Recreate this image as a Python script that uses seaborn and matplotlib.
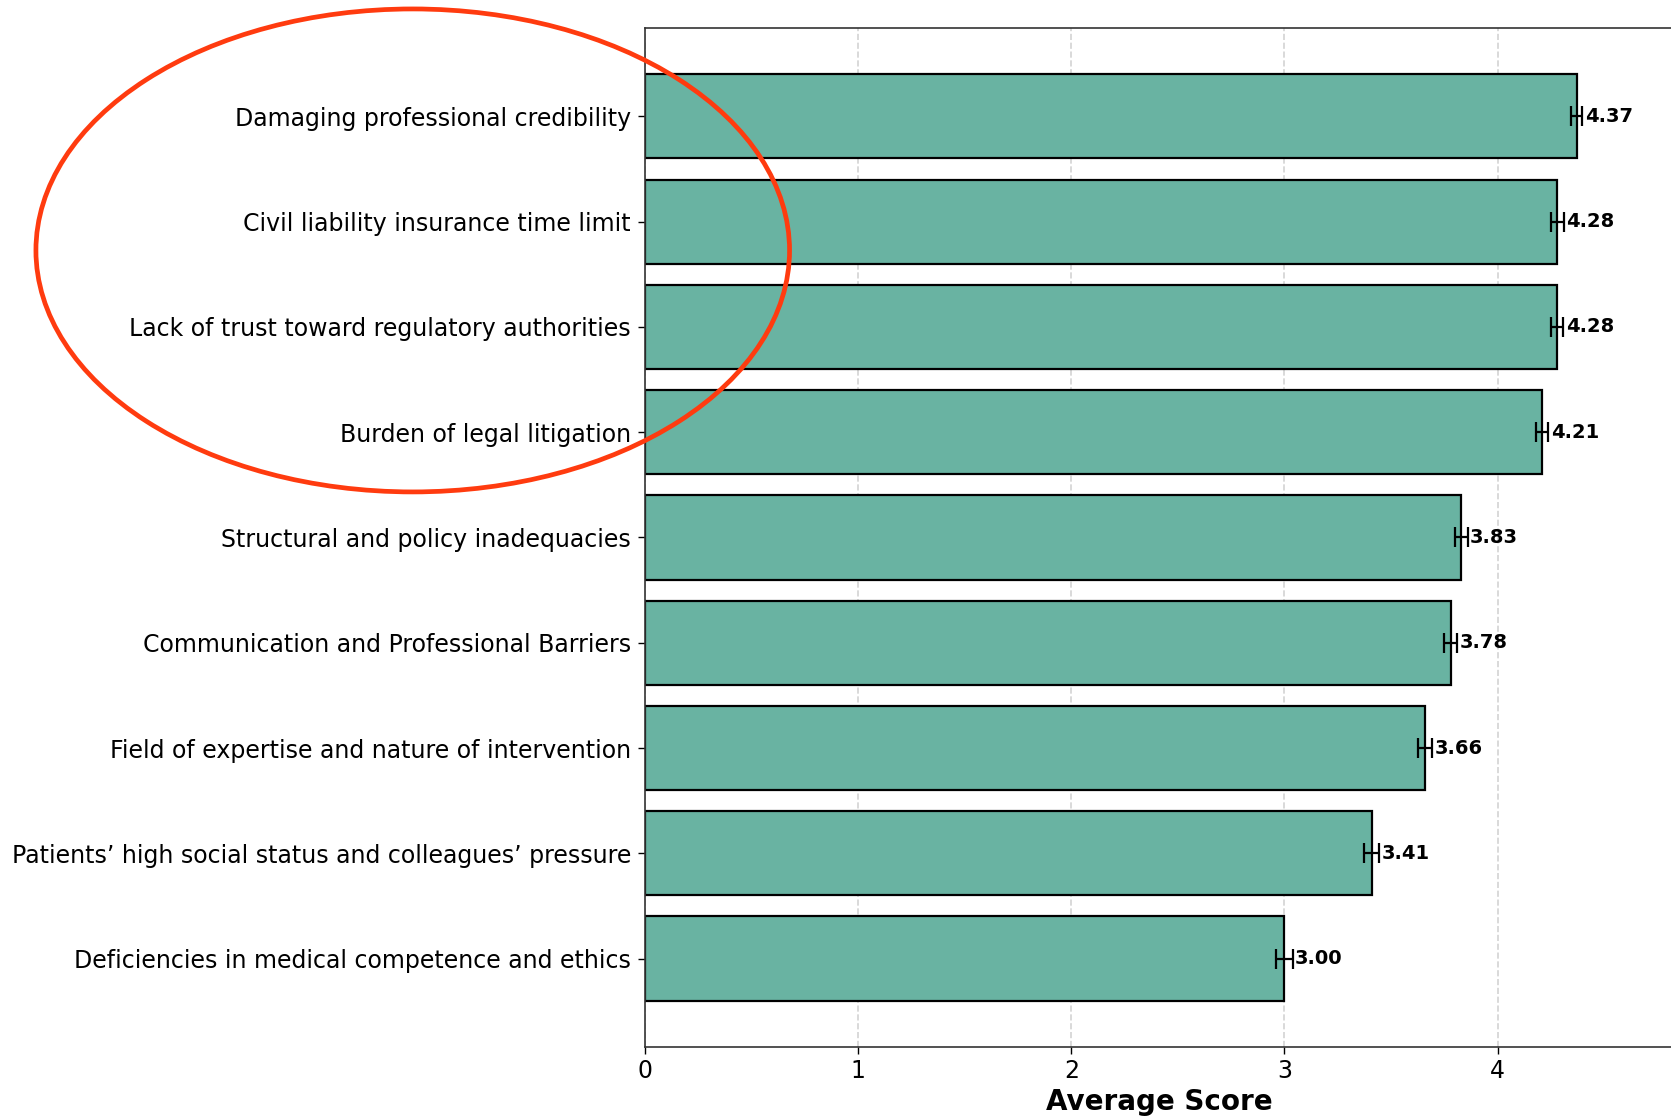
import numpy as np
import pandas as pd
import matplotlib.pyplot as plt
import seaborn as sns
from matplotlib.patches import Ellipse

factors = [
    'Damaging professional credibility',
    'Civil liability insurance time limit',
    'Lack of trust toward regulatory authorities',
    'Burden of legal litigation',
    'Structural and policy inadequacies',
    'Communication and Professional Barriers',
    'Field of expertise and nature of intervention',
    'Patients\u2019 high social status and colleagues\u2019 pressure',
    'Deficiencies in medical competence and ethics',
]
scores = [4.37, 4.28, 4.28, 4.21, 3.83, 3.78, 3.66, 3.41, 3.00]
errors = [0.026, 0.03, 0.028, 0.028, 0.029, 0.03, 0.034, 0.035, 0.038]

df = pd.DataFrame({'Factor': factors, 'Score': scores, 'SE': errors})

sns.set_style('white')
plt.rcParams['font.family'] = ['DejaVu Sans']

fig = plt.figure(figsize=(16.71, 11.18), dpi=100)
ax = fig.add_axes([0.386, 0.0635, 0.616, 0.9115])

ax.grid(axis='x', linestyle='--', color='lightgray', linewidth=1.2, zorder=0)
ax.set_axisbelow(True)

sns.barplot(data=df, x='Score', y='Factor', orient='h', color='#69b3a2',
            saturation=1, edgecolor='black', linewidth=1.6, width=0.8, ax=ax, zorder=2)

# standard errors
ax.errorbar(df['Score'], np.arange(len(df)), xerr=df['SE'], fmt='none',
            ecolor='black', elinewidth=1.6, capsize=7.5, capthick=1.6, zorder=3)

for i, row in df.iterrows():
    ax.text(row['Score'] + row['SE'] + 0.012, i, f"{row['Score']:.2f}",
            va='center', ha='left', fontsize=14, fontweight='bold', color='black', zorder=4)

ax.set_xlim(0, max(scores) * 1.105)
ax.set_ylim(len(df) - 1 + 0.84, -0.84)
ax.set_xticks([0, 1, 2, 3, 4])
ax.set_xlabel('Average Score', fontsize=20, fontweight='bold', labelpad=4, color='black')
ax.set_ylabel('')
ax.tick_params(axis='both', labelsize=17, length=5, width=1, colors='black', left=True, bottom=True)
ax.tick_params(axis='y', pad=5)
for s in ax.spines.values():
    s.set_color('#333333')
    s.set_linewidth(1.2)

# highlight the top four factors
ell = Ellipse((0.247, 0.776), 0.451, 0.432, transform=fig.transFigure,
              fill=False, edgecolor='#ff3b0f', linewidth=3.4, zorder=10)
fig.patches.append(ell)

fig.savefig('out.png', dpi=100)
